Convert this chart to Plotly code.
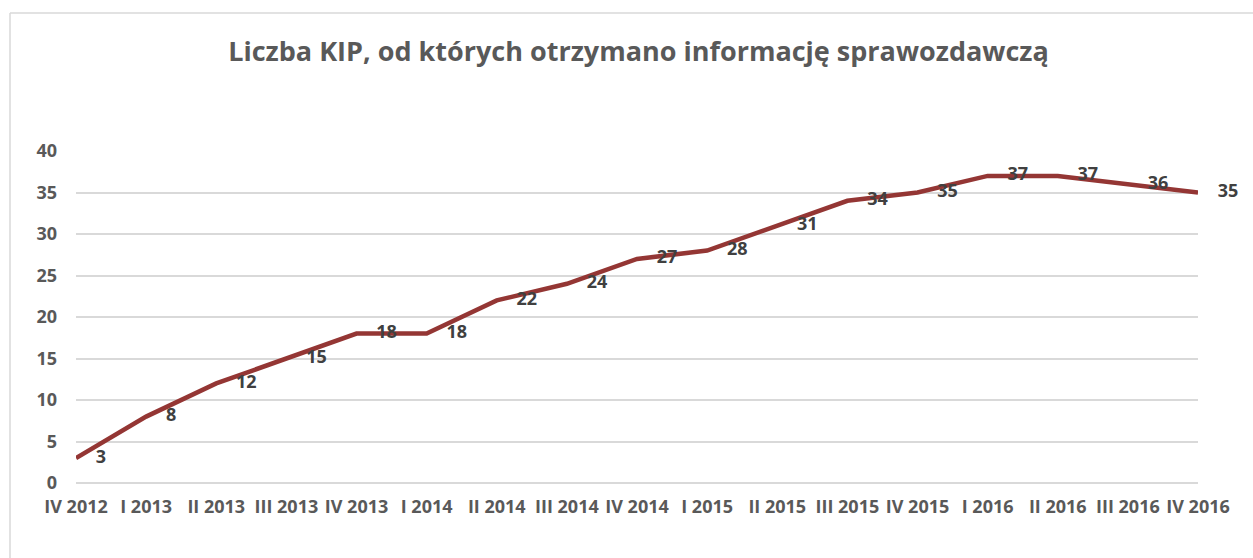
import plotly.graph_objects as go

categories = ["IV 2012", "I 2013", "II 2013", "III 2013", "IV 2013", "I 2014",
              "II 2014", "III 2014", "IV 2014", "I 2015", "II 2015", "III 2015",
              "IV 2015", "I 2016", "II 2016", "III 2016", "IV 2016"]
values = [3, 8, 12, 15, 18, 18, 22, 24, 27, 28, 31, 34, 35, 37, 37, 36, 35]
y_ticks = [0, 5, 10, 15, 20, 25, 30, 35, 40]
title_text = "Liczba KIP, od których otrzymano informację sprawozdawczą"

W, H = 1253, 558
L, R, T, B = 76, 1198, 151, 483

FONT = "Open Sans"
AXIS_COLOR = "#595959"
LABEL_COLOR = "#404040"

fig = go.Figure()
fig.add_trace(go.Scatter(
    x=categories, y=values, mode="lines",
    line=dict(color="#943634", width=4.5),
    hoverinfo="x+y", showlegend=False,
))
fig.add_trace(go.Scatter(
    x=categories, y=values, mode="markers+text",
    marker=dict(size=30, color="rgba(0,0,0,0)"),
    text=[str(v) for v in values], textposition="middle right",
    textfont=dict(family=FONT, size=18, color=LABEL_COLOR, weight="bold"),
    hoverinfo="skip", showlegend=False, cliponaxis=False,
))

def px_to_paper_x(px):
    return (px - L) / (R - L)

def px_to_paper_y(py):
    return (B - py) / (B - T)

border_color = "#D9D9D9"
fig.add_shape(type="line", xref="paper", yref="paper",
              x0=px_to_paper_x(10), x1=px_to_paper_x(1270),
              y0=px_to_paper_y(13), y1=px_to_paper_y(13),
              line=dict(color=border_color, width=1.5))
fig.add_shape(type="line", xref="paper", yref="paper",
              x0=px_to_paper_x(10), x1=px_to_paper_x(10),
              y0=px_to_paper_y(13), y1=px_to_paper_y(570),
              line=dict(color=border_color, width=1.5))

fig.update_layout(
    width=W, height=H,
    margin=dict(l=L, r=W - R, t=T, b=H - B, autoexpand=False),
    paper_bgcolor="white", plot_bgcolor="white",
    title=dict(text=title_text, x=638.5 / W, xanchor="center",
               y=1 - 52 / H, yanchor="middle", yref="container",
               font=dict(family=FONT, size=27, color=AXIS_COLOR, weight="bold")),
    xaxis=dict(
        type="category", range=[0, len(categories) - 1],
        showgrid=False, showline=False, zeroline=False, ticks="",
        tickfont=dict(family=FONT, size=18, color=AXIS_COLOR, weight="bold"),
        ticklabelstandoff=11, tickangle=0,
    ),
    yaxis=dict(
        range=[0, 40], tickvals=y_ticks, ticktext=[str(v) for v in y_ticks],
        showgrid=True, gridcolor="#D9D9D9", gridwidth=1.5,
        zeroline=True, zerolinecolor="#D9D9D9", zerolinewidth=1.5,
        showline=False, ticks="",
        tickfont=dict(family=FONT, size=18, color=AXIS_COLOR, weight="bold"),
        ticklabelstandoff=18,
    ),
)

fig.write_html("out.html", config={"displayModeBar": False},
               post_script="document.body.style.margin='0';")
